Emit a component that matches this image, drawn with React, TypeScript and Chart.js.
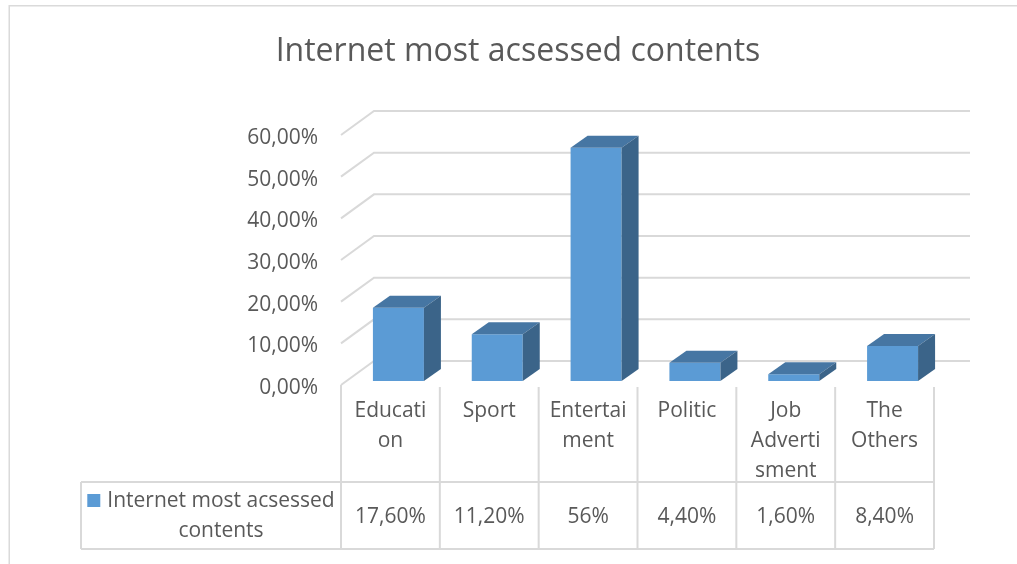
import React, { useEffect, useRef } from "react";
import { Chart, registerables } from "chart.js";

Chart.register(...registerables);

const TITLE = "Internet most acsessed contents";
const SERIES_NAME = "Internet most acsessed contents";
const categories = ["Education", "Sport", "Entertainment", "Politic", "Job Advertisment", "The Others"];
const categoryLines = [["Educati", "on"], ["Sport"], ["Entertai", "ment"], ["Politic"], ["Job", "Adverti", "sment"], ["The", "Others"]];
const values = [17.6, 11.2, 56, 4.4, 1.6, 8.4];
const valueLabels = ["17,60%", "11,20%", "56%", "4,40%", "1,60%", "8,40%"];
const yTicks = [0, 10, 20, 30, 40, 50, 60];

const FRONT = "#5B9BD5";
const TOP = "#4676A3";
const SIDE = "#3B6489";
const GRID = "#D9D9D9";
const TEXT = "#595959";
const FONT = '"Open Sans", "Noto Sans", sans-serif';

const SHIFT = 8; // bars sit mid-depth
const DX = 17;
const DY = 12;
const WALL_DX = 33;
const WALL_DY = 24;

function wrapWords(ctx: CanvasRenderingContext2D, text: string, maxW: number): string[] {
  const words = text.split(" ");
  const lines: string[] = [];
  let cur = "";
  for (const w of words) {
    const t = cur ? cur + " " + w : w;
    if (ctx.measureText(t).width <= maxW || !cur) cur = t;
    else {
      lines.push(cur);
      cur = w;
    }
  }
  if (cur) lines.push(cur);
  return lines;
}

const decoPlugin = {
  id: "deco",
  beforeDraw(chart: any) {
    const { ctx } = chart;
    const ys = chart.scales.y;
    const xs = chart.scales.x;
    ctx.save();
    ctx.fillStyle = "#ffffff";
    ctx.fillRect(0, 0, chart.width, chart.height);
    // outer frame
    ctx.strokeStyle = "#DADADA";
    ctx.lineWidth = 1.5;
    ctx.beginPath();
    ctx.moveTo(9.25, chart.height);
    ctx.lineTo(9.25, 5.75);
    ctx.lineTo(chart.width, 5.75);
    ctx.stroke();
    // title
    ctx.fillStyle = TEXT;
    ctx.font = `32px ${FONT}`;
    ctx.textAlign = "center";
    ctx.textBaseline = "alphabetic";
    ctx.fillText(TITLE, 518, 61);
    // 3D gridlines (side wall + back wall)
    ctx.strokeStyle = GRID;
    ctx.lineWidth = 2;
    for (const t of yTicks) {
      const py = ys.getPixelForValue(t);
      ctx.beginPath();
      ctx.moveTo(xs.left, py + 4);
      ctx.lineTo(xs.left + WALL_DX, py + 4 - WALL_DY);
      ctx.lineTo(xs.right + WALL_DX + 3, py + 4 - WALL_DY);
      ctx.stroke();
    }
    ctx.restore();
  },
  beforeDatasetsDraw(chart: any) {
    chart.ctx.save();
    chart.ctx.translate(SHIFT, 0);
  },
  afterDatasetsDraw(chart: any) {
    const ctx = chart.ctx;
    const meta = chart.getDatasetMeta(0);
    meta.data.forEach((bar: any) => {
      const { x, y, base, width } = bar.getProps(["x", "y", "base", "width"], true);
      const l = x - width / 2;
      const r = x + width / 2;
      ctx.fillStyle = TOP;
      ctx.beginPath();
      ctx.moveTo(l, y);
      ctx.lineTo(r, y);
      ctx.lineTo(r + DX, y - DY);
      ctx.lineTo(l + DX, y - DY);
      ctx.closePath();
      ctx.fill();
      ctx.fillStyle = SIDE;
      ctx.beginPath();
      ctx.moveTo(r, y);
      ctx.lineTo(r + DX, y - DY);
      ctx.lineTo(r + DX, base - DY);
      ctx.lineTo(r, base);
      ctx.closePath();
      ctx.fill();
    });
    ctx.restore();
  },
  afterDraw(chart: any) {
    const { ctx } = chart;
    const xs = chart.scales.x;
    const ys = chart.scales.y;
    const n = categories.length;
    const colW = (xs.right - xs.left) / n;
    const floorY = ys.getPixelForValue(0) + 4;
    const headTop = floorY + 2;
    const rowTop = 482;
    const rowBot = 549;
    const legLeft = 81;
    ctx.save();
    ctx.strokeStyle = GRID;
    ctx.lineWidth = 2;
    ctx.beginPath();
    for (let i = 0; i <= n; i++) {
      const px = xs.left + i * colW;
      ctx.moveTo(px, i === 0 ? floorY : headTop);
      ctx.lineTo(px, rowBot);
    }
    ctx.moveTo(legLeft, rowTop);
    ctx.lineTo(xs.right, rowTop);
    ctx.moveTo(legLeft, rowBot);
    ctx.lineTo(xs.right, rowBot);
    ctx.moveTo(legLeft, rowTop);
    ctx.lineTo(legLeft, rowBot);
    ctx.stroke();

    ctx.fillStyle = TEXT;
    ctx.font = `21px ${FONT}`;
    ctx.textAlign = "center";
    ctx.textBaseline = "alphabetic";
    categoryLines.forEach((lines, i) => {
      const cx = xs.left + (i + 0.5) * colW;
      lines.forEach((ln, k) => ctx.fillText(ln, cx, 417 + k * 30));
      ctx.fillText(valueLabels[i], cx, 523);
    });

    // legend cell
    const cellCx = (legLeft + xs.left) / 2;
    const legLines = wrapWords(ctx, SERIES_NAME, 245);
    const w1 = ctx.measureText(legLines[0]).width;
    const sq = 13;
    const gap = 7;
    const start = cellCx - (sq + gap + w1) / 2;
    const textCx = start + sq + gap + w1 / 2;
    ctx.fillStyle = FRONT;
    ctx.fillRect(start, 494, sq, sq);
    ctx.fillStyle = TEXT;
    legLines.forEach((ln, k) => ctx.fillText(ln, textCx, 507 + k * 29.5));
    ctx.restore();
  },
};

export default function App() {
  const ref = useRef<HTMLCanvasElement | null>(null);
  useEffect(() => {
    document.body.style.margin = "0";
    const canvas = ref.current!;
    const chart = new Chart(canvas, {
      type: "bar",
      data: {
        labels: categories,
        datasets: [
          {
            label: SERIES_NAME,
            data: values,
            backgroundColor: FRONT,
            borderWidth: 0,
            barPercentage: 0.516,
            categoryPercentage: 1,
            clip: false as any,
          },
        ],
      },
      options: {
        responsive: false,
        maintainAspectRatio: false,
        animation: false,
        devicePixelRatio: 1,
        layout: { padding: { top: 131, bottom: 183, left: 0, right: 83 } },
        plugins: {
          legend: { display: false },
          tooltip: { enabled: false },
          title: { display: false },
        },
        scales: {
          x: { display: false, offset: true },
          y: {
            min: 0,
            max: 60,
            afterFit: (s: any) => {
              s.width = 341;
            },
            grid: { display: false, drawTicks: false },
            border: { display: false },
            ticks: {
              stepSize: 10,
              padding: 23,
              labelOffset: 7,
              color: TEXT,
              font: { family: FONT, size: 21 },
              callback: (v: any) => Number(v).toFixed(2).replace(".", ",") + "%",
            },
          },
        },
      },
      plugins: [decoPlugin],
    });
    return () => chart.destroy();
  }, []);
  return (
    <div style={{ position: "absolute", left: 0, top: 0, width: 1017, height: 564 }}>
      <canvas ref={ref} width={1017} height={564} style={{ width: 1017, height: 564, display: "block" }} />
    </div>
  );
}
